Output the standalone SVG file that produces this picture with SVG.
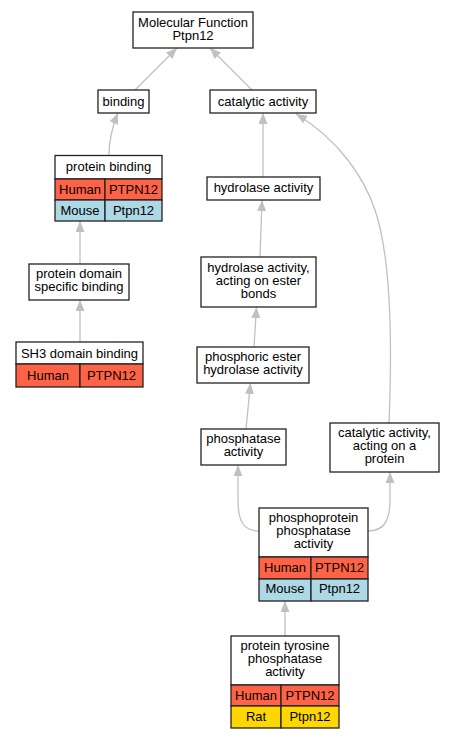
<svg xmlns="http://www.w3.org/2000/svg" width="453" height="739" viewBox="0 0 453 739">
<style>
.n{fill:#fff;stroke:#222;stroke-width:1.3}
.h{fill:#ff6347;stroke:#222;stroke-width:1.3}
.m{fill:#add8e6;stroke:#222;stroke-width:1.3}
.r{fill:#ffd700;stroke:#222;stroke-width:1.3}
text{font-family:"Liberation Sans",Arial,sans-serif;font-size:13px;text-anchor:middle;fill:#000}
.e{fill:none;stroke:#c0c0c0;stroke-width:1.3;marker-end:url(#a)}
</style>
<defs>
<marker id="a" markerUnits="userSpaceOnUse" markerWidth="12" markerHeight="10" refX="11" refY="4.5" orient="auto">
<path d="M0,0 L11,4.5 L0,9 z" fill="#c0c0c0"/>
</marker>
</defs>
<g id="edges">
<path class="e" d="M135,90 L177,48"/>
<path class="e" d="M252,90 L210,48"/>
<path class="e" d="M109,155 C109,140 113,125 118,113"/>
<path class="e" d="M80,264 L80,221"/>
<path class="e" d="M80,342 L80,300"/>
<path class="e" d="M263,177 L263,113"/>
<path class="e" d="M260,257 L262,200"/>
<path class="e" d="M254,347 L256.5,307"/>
<path class="e" d="M246,429 L250.5,383"/>
<path class="e" d="M389,423 C392,350 392,260 375,210 C365,180 340,140 296,114"/>
<path class="e" d="M259,531 C244,531 238,522 238,500 L238,465"/>
<path class="e" d="M368,531 C383,531 390,522 390,500 L390,472"/>
<path class="e" d="M285,636 L285,601"/>
</g>
<g id="mf">
<rect class="n" x="133" y="12" width="120" height="36"/>
<text x="193" y="26.5">Molecular Function</text>
<text x="193" y="39.5">Ptpn12</text>
</g>
<g id="binding">
<rect class="n" x="98" y="90" width="51" height="23"/>
<text x="123.5" y="105.5">binding</text>
</g>
<g id="catalytic">
<rect class="n" x="210" y="90" width="106" height="23"/>
<text x="263" y="105.5">catalytic activity</text>
</g>
<g id="proteinbinding">
<rect class="n" x="55" y="155.5" width="107" height="23.5"/>
<rect class="h" x="55" y="179" width="50" height="21"/>
<rect class="h" x="105" y="179" width="57" height="21"/>
<rect class="m" x="55" y="200" width="50" height="21"/>
<rect class="m" x="105" y="200" width="57" height="21"/>
<text x="108.5" y="171">protein binding</text>
<text x="80" y="193.5">Human</text>
<text x="133.5" y="193.5">PTPN12</text>
<text x="80" y="214.5">Mouse</text>
<text x="133.5" y="214.5">Ptpn12</text>
</g>
<g id="domain">
<rect class="n" x="29" y="264" width="100" height="36"/>
<text x="79" y="277.5">protein domain</text>
<text x="79" y="290.5">specific binding</text>
</g>
<g id="sh3">
<rect class="n" x="16" y="342" width="127" height="22"/>
<rect class="h" x="16" y="364" width="64" height="23"/>
<rect class="h" x="80" y="364" width="63" height="23"/>
<text x="79.5" y="357.5">SH3 domain binding</text>
<text x="48" y="380">Human</text>
<text x="111.5" y="380">PTPN12</text>
</g>
<g id="hydrolase">
<rect class="n" x="207" y="177" width="113" height="23"/>
<text x="263.5" y="191.5">hydrolase activity</text>
</g>
<g id="ester">
<rect class="n" x="201" y="257" width="115" height="50"/>
<text x="258.5" y="271.5">hydrolase activity,</text>
<text x="258.5" y="284.5">acting on ester</text>
<text x="258.5" y="297.5">bonds</text>
</g>
<g id="phosphoric">
<rect class="n" x="197" y="347" width="112" height="36"/>
<text x="253" y="361">phosphoric ester</text>
<text x="253" y="374">hydrolase activity</text>
</g>
<g id="phosphatase">
<rect class="n" x="201" y="429" width="85" height="36"/>
<text x="243.5" y="443">phosphatase</text>
<text x="243.5" y="456">activity</text>
</g>
<g id="catprotein">
<rect class="n" x="330" y="423" width="109" height="49"/>
<text x="384.5" y="437">catalytic activity,</text>
<text x="384.5" y="450">acting on a</text>
<text x="384.5" y="463">protein</text>
</g>
<g id="phosphoprotein">
<rect class="n" x="259" y="508" width="109" height="49"/>
<rect class="h" x="259" y="557" width="52" height="22"/>
<rect class="h" x="311" y="557" width="57" height="22"/>
<rect class="m" x="259" y="579" width="52" height="22"/>
<rect class="m" x="311" y="579" width="57" height="22"/>
<text x="313.5" y="522">phosphoprotein</text>
<text x="313.5" y="535">phosphatase</text>
<text x="313.5" y="548">activity</text>
<text x="285" y="571.5">Human</text>
<text x="339.5" y="571.5">PTPN12</text>
<text x="285" y="592.5">Mouse</text>
<text x="339.5" y="592.5">Ptpn12</text>
</g>
<g id="ptp">
<rect class="n" x="231" y="636" width="108" height="49"/>
<rect class="h" x="231" y="685" width="50" height="21"/>
<rect class="h" x="281" y="685" width="58" height="21"/>
<rect class="r" x="231" y="706" width="50" height="22"/>
<rect class="r" x="281" y="706" width="58" height="22"/>
<text x="285" y="650">protein tyrosine</text>
<text x="285" y="663">phosphatase</text>
<text x="285" y="676">activity</text>
<text x="256" y="700">Human</text>
<text x="310" y="700">PTPN12</text>
<text x="256" y="721">Rat</text>
<text x="310" y="721">Ptpn12</text>
</g>
</svg>
